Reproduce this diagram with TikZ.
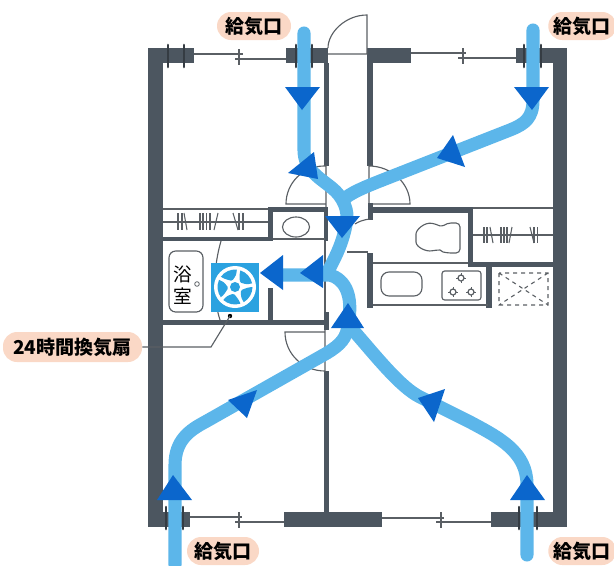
\documentclass[tikz,border=0pt]{standalone}
\usepackage{fontspec}
\newfontfamily\jp{Noto Sans CJK JP}
\definecolor{wallc}{HTML}{4C5660}
\definecolor{thinc}{HTML}{5A5F64}
\definecolor{flowc}{HTML}{5CB6EA}
\definecolor{arrowc}{HTML}{0B66CC}
\definecolor{pillc}{HTML}{FAD8C6}
\definecolor{fanc}{HTML}{2BA2E0}
\tikzset{
  wall/.style={fill=wallc},
  thin line/.style={draw=thinc,line width=0.85pt},
  flow/.style={draw=flowc,line width=9.8pt,line cap=round,line join=round},
  head/.style={fill=arrowc},
  pill/.style={fill=pillc,rounded corners=10.5pt,inner sep=0pt,text=black,font=\jp\bfseries\fontsize{14.3}{15}\selectfont},
  clamp/.style={draw=wallc!70!black,line width=2pt,line cap=round},
}
\begin{document}
\begin{tikzpicture}[x=0.75pt,y=-0.75pt]
\useasboundingbox (0,0) rectangle (614,565);
% outer walls
\fill[wall] (148,48) rectangle (163,527);
\fill[wall] (553,48) rectangle (567,527);
\fill[wall] (148,48) rectangle (194,63);
\fill[wall] (286,48) rectangle (328,63);
\fill[wall] (367,48) rectangle (411,63);
\fill[wall] (516,48) rectangle (567,63);
\fill[wall] (148,512) rectangle (190,527);
\fill[wall] (284,512) rectangle (382,527);
\fill[wall] (491,512) rectangle (567,527);
% windows
\foreach \xa/\xb/\xc/\xd/\ya/\yb in {194/243/235/286/54/59, 411/466/458/516/53/58, 190/242/235/284/517/522, 382/444/436/491/518/522}{
  \draw[thin line] (\xa,\ya) -- (\xb,\ya);
  \draw[thin line] (\xc,\yb) -- (\xd,\yb);
}
\foreach \x/\y in {239/57, 463/56, 239/520, 441/520}
  \draw[thin line] (\x,\y-8) -- (\x,\y+8);
% entrance door
\draw[thin line] (328,54) -- (367,54) -- (367,15) .. controls (345.5,15) and (328,32.5) .. (328,48);
% corridor walls
\fill[wall] (324,63) rectangle (329,166);
\fill[wall] (367,63) rectangle (373,166);
\fill[wall] (324,371) rectangle (329,515);
% door arcs upper
\draw[thin line] (326,207) -- (326,166) -- (324,166) .. controls (303,166) and (286,183) .. (286,204) -- (326,204);
\draw[thin line] (369,204) -- (369,166) .. controls (391,166) and (410,183) .. (410,204) -- (369,204);
% left closet
\draw[thin line] (163,209) -- (268,209);
\draw[thin line] (163,222) -- (268,222);
\fill[wall] (163,237) rectangle (273,241);
\foreach \x in {178,182,200,203,206.5,210,239,243}
  \draw[draw=thinc,line width=0.8pt] (\x,213) -- (\x,230);
\draw[draw=thinc,line width=0.8pt] (184,213) -- (187,230);
\draw[draw=thinc,line width=0.8pt] (218,213) -- (214,230);
\draw[draw=thinc,line width=0.8pt] (233,213) -- (238,230);
% washroom
\fill[wall] (268,207) rectangle (328,212);
\fill[wall] (268,207) rectangle (273,241);
\fill[wall] (324,207) rectangle (328,241);
\draw[thin line] (273,239) -- (325,239);
\draw[thin line] (296,227) ellipse[x radius=13.5,y radius=10];
% bath
\fill[wall] (163,320) rectangle (329,325);
\fill[wall] (268,288) rectangle (273,322);
\draw[thin line] (325,241) -- (325,312);
\fill[wall] (324,312) rectangle (329,330);
\draw[thin line] (221,241) .. controls (214,265) and (212,295) .. (220,320);
\draw[thin line,rounded corners=5pt] (169,251) rectangle (203,312);
\node[font=\jp\fontsize{14}{16.5}\selectfont,align=center,inner sep=0pt] (bathlabel) at (183,285) {浴\\室};
\draw[draw=thinc,line width=0.6pt] (197,284) circle (2.3);
% lower-left door
\draw[thin line] (325,330) -- (325,371) .. controls (303,371) and (285,354) .. (285,332) -- (325,332);
% right rooms
\fill[wall] (368,203) rectangle (373,220);
\fill[wall] (368,207) rectangle (473,213);
\fill[wall] (468,207) rectangle (473,267);
\fill[wall] (468,262) rectangle (553,267);
\draw[thin line] (473,208) -- (553,208);
\draw[thin line] (473,235) -- (553,235);
\foreach \x in {484,487,501,504,507,534,537.5}
  \draw[draw=thinc,line width=0.8pt] (\x,227) -- (\x,243);
\draw[draw=thinc,line width=0.8pt] (490,227) -- (493,243);
\draw[draw=thinc,line width=0.8pt] (512,227) -- (509,243);
\draw[draw=thinc,line width=0.8pt] (530,227) -- (534,243);
\draw[thin line] (370,219) .. controls (362,220) and (358,222) .. (355,224);
\draw[thin line] (347,252) -- (368,252);
\draw[thin line] (373,263) -- (468,263);
\fill[wall] (367,253) rectangle (373,308);
\fill[wall] (486,263) rectangle (492,308);
\draw[thin line] (373,305) -- (488,305);
% toilet
\draw[thin line,rounded corners=3pt] (460,223) -- (447,223) .. controls (443,226) and (440,226) .. (436,224) .. controls (424,222) and (416,230) .. (416,238) .. controls (416,247) and (426,252) .. (436,250) .. controls (440,250) and (443,252) .. (447,253) -- (460,253) -- cycle;
% sink
\draw[thin line,rounded corners=6pt] (381,272) rectangle (422,296);
% stove
\draw[thin line,rounded corners=2pt] (442,271) rectangle (481,300);
\foreach \x/\y in {461/278,453/292,471/292}{
  \draw[draw=thinc,line width=0.7pt] (\x-5,\y) -- (\x+5,\y) (\x,\y-5) -- (\x,\y+5);
  \fill[white] (\x,\y) circle (3);
  \draw[draw=thinc,line width=0.9pt] (\x,\y) circle (3);
}
% dashed box
\draw[draw=thinc,line width=0.8pt,dashed] (499,273) rectangle (548,305) (499,273) -- (548,305) (548,273) -- (499,305);
% fan
\fill[fanc] (211,263) rectangle (259,312);
\fill[white] (235,287) circle (21);
\begin{scope}[shift={(235,287)}]
\foreach \a in {30,102,174,246,318}
  \fill[fanc] (\a-8:7.5) .. controls (\a-28:13) .. (\a-30:17.5) .. controls (\a-10:18.5) and (\a+10:18.5) .. (\a+30:17.5) .. controls (\a+30:12) .. (\a+8:7.5) -- cycle;
\fill[fanc] (0,0) circle (5);
\end{scope}
% clamps
\foreach \x in {168,184,296,312,524,541}
  \draw[clamp] (\x,45) -- (\x,67);
\foreach \x in {166,183,519,537}
  \draw[clamp] (\x,507) -- (\x,529);
% flows
\draw[flow] (304,33) -- (304,150) .. controls (304,170) and (320,178) .. (332,188) .. controls (342,196) and (350,210) .. (346,225) .. controls (342,245) and (335,258) .. (327,273);
\draw[flow] (533,30) -- (533,100) .. controls (533,118) and (525,124) .. (510,130) -- (380,181) .. controls (365,187) and (350,193) .. (343,200);
\draw[flow] (175,565) -- (175,465) .. controls (175,440) and (190,430) .. (205,422) -- (327,353) .. controls (340,345) and (347,338) .. (348,325);
\draw[flow] (527,555) -- (527,485) .. controls (527,452) and (500,438) .. (470,422) -- (420,397) .. controls (400,387) and (375,355) .. (353,330);
\draw[flow,line cap=butt] (348,325) .. controls (352,305) and (350,285) .. (335,277) .. controls (331,275) and (329,275) .. (327,275) -- (280,275);
% arrow heads
\fill[head] (285,87) -- (320,87) -- (302,110) -- cycle;
\fill[head] (314,152) -- (288,173) -- (318,179) -- cycle;
\fill[head] (514,87) -- (549,87) -- (532,110) -- cycle;
\fill[head] (453,135) -- (437,158) -- (465,167) -- cycle;
\fill[head] (325,216) -- (360,216) -- (342,238) -- cycle;
\fill[head] (323,255) -- (300,273) -- (323,288) -- cycle;
\fill[head] (283,255) -- (260,273) -- (283,290) -- cycle;
\fill[head] (348,303) -- (331,328) -- (364,328) -- cycle;
\fill[head] (445,389) -- (418,398) -- (434,422) -- cycle;
\fill[head] (228,400) -- (257,390) -- (247,418) -- cycle;
\fill[head] (173,475) -- (157,500) -- (192,500) -- cycle;
\fill[head] (527,475) -- (510,500) -- (545,500) -- cycle;
% labels
\node[pill,minimum width=74pt*0.75,minimum height=28pt*0.75] (labelTL) at (254,26) {給気口};
\node[pill,minimum width=68pt*0.75,minimum height=28pt*0.75,anchor=west] (labelTR) at (548,26) {給気口};
\node[pill,minimum width=72pt*0.75,minimum height=28pt*0.75] (labelBL) at (223,551) {給気口};
\node[pill,minimum width=68pt*0.75,minimum height=28pt*0.75,anchor=west] (labelBR) at (548,551) {給気口};
\node[pill,minimum width=139pt*0.75,minimum height=30pt*0.75] (label24) at (72.5,347) {24時間換気扇};
% leader
\fill[black] (230,316) circle (2.2);
\coordinate (fandot) at (230,316);
\draw[thin line] (label24.east) -- (211,347) -- (fandot);
\end{tikzpicture}
\end{document}
